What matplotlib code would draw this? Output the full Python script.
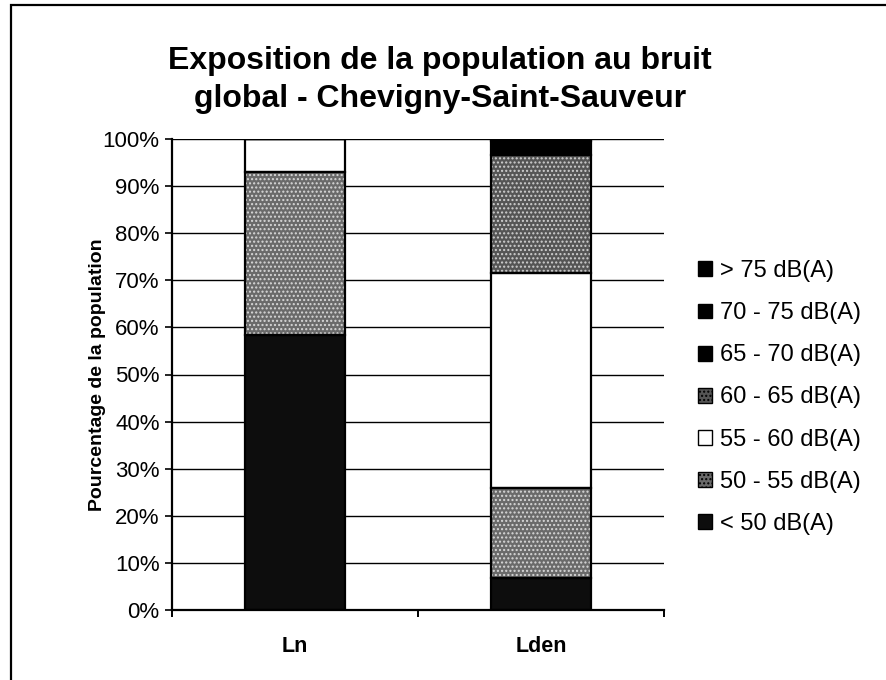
import matplotlib
matplotlib.use("Agg")
import matplotlib.pyplot as plt
from matplotlib.patches import Patch, Rectangle

plt.rcParams['font.family'] = ['Liberation Sans', 'DejaVu Sans']

# population share (%) per noise band, bottom to top of each stack
indicators = ["Ln", "Lden"]
bands = ["< 50 dB(A)", "50 - 55 dB(A)", "55 - 60 dB(A)", "60 - 65 dB(A)",
         "65 - 70 dB(A)", "70 - 75 dB(A)", "> 75 dB(A)"]
ln_values = [58.4, 34.6, 7.0, 0.0, 0.0, 0.0, 0.0]
lden_values = [6.8, 19.1, 45.6, 25.0, 3.0, 0.5, 0.0]
y_ticks = [0, 10, 20, 30, 40, 50, 60, 70, 80, 90, 100]

# fill style per band: face colour, hatch, hatch colour
styles = [
    ("#0d0d0d", None, "#0d0d0d"),
    ("#6a6a6a", "....", "#d8d8d8"),
    ("#ffffff", None, "#ffffff"),
    ("#555555", "....", "#cfcfcf"),
    ("#000000", None, "#000000"),
    ("#000000", None, "#000000"),
    ("#000000", None, "#000000"),
]

fig = plt.figure(figsize=(8.86, 6.8), dpi=100)
W, H = 886, 680

# outer chart frame
fig.patches.append(Rectangle((11 / W, -0.05), 1.2, (H - 5) / H + 0.05,
                             transform=fig.transFigure, fill=False,
                             edgecolor="black", linewidth=1.6))

ax = fig.add_axes([172 / W, (H - 610) / H, (664 - 172) / W, (610 - 139) / H])

x = list(range(len(indicators)))
bar_w = 0.41
data = [ln_values, lden_values]
bottoms = [0.0] * len(indicators)
for k, band in enumerate(bands):
    vals = [d[k] for d in data]
    fc, hatch, hc = styles[k]
    ax.bar(x, vals, bar_w, bottom=bottoms, color=fc, hatch=hatch,
           edgecolor=hc, linewidth=0, zorder=2)
    ax.bar(x, vals, bar_w, bottom=bottoms, fill=False,
           edgecolor="black", linewidth=1.6, zorder=3)
    bottoms = [b + v for b, v in zip(bottoms, vals)]

ax.set_xlim(-0.5, 1.5)
ax.set_ylim(0, 100)
ax.set_yticks(y_ticks)
ax.set_yticklabels([f"{t}%" for t in y_ticks], fontsize=16)
ax.yaxis.grid(True, color="black", linewidth=1.0, zorder=0)
ax.set_axisbelow(True)

ax.set_xticks(x)
ax.set_xticklabels(indicators, fontsize=15.5, fontweight="bold")
ax.set_xticks([-0.5, 0.5, 1.5], minor=True)
ax.tick_params(axis="x", which="major", length=0, pad=19)
ax.tick_params(axis="x", which="minor", length=5, width=1.4, direction="out")
ax.tick_params(axis="y", length=5, width=1.2, direction="out", pad=4)

for side in ("top", "right"):
    ax.spines[side].set_visible(False)
for side in ("left", "bottom"):
    ax.spines[side].set_linewidth(1.6)

ax.set_ylabel("Pourcentage de la population", fontsize=14,
              fontweight="bold")
ax.yaxis.set_label_coords(-0.135, 0.5)

fig.text(440 / W, 1 - 80 / H,
         "Exposition de la population au bruit\nglobal - Chevigny-Saint-Sauveur",
         ha="center", va="center", fontsize=23, fontweight="bold",
         linespacing=1.32)

# legend, highest band first
handles = []
for k in reversed(range(len(bands))):
    fc, hatch, hc = styles[k]
    handles.append(Patch(facecolor=fc, hatch=hatch, edgecolor="black",
                         linewidth=1.0, label=bands[k]))
fig.legend(handles=handles, loc="upper left",
           bbox_to_anchor=(677 / W, 1 - 239 / H), frameon=False,
           fontsize=17, handlelength=0.6, handleheight=0.6,
           handletextpad=0.3, labelspacing=0.85)

fig.savefig("out.png", dpi=100)
